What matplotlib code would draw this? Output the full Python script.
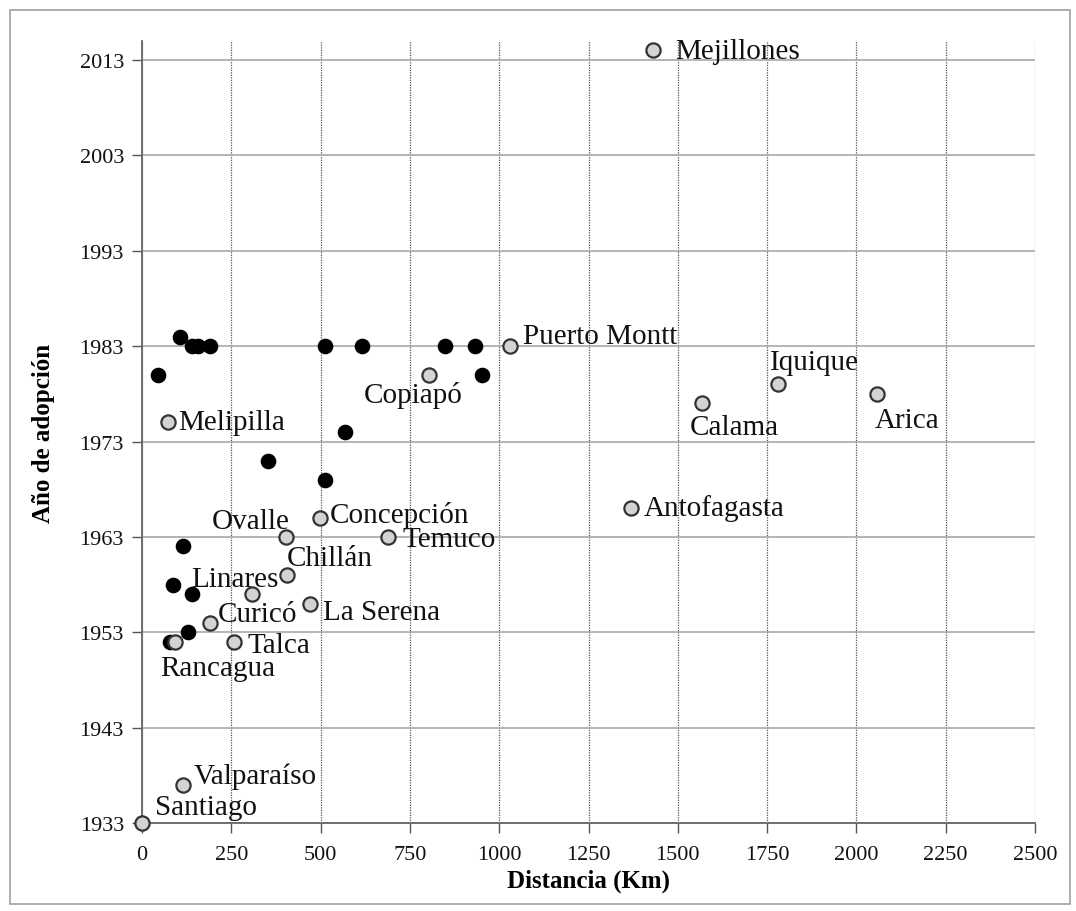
import matplotlib.pyplot as plt
from matplotlib.patches import Rectangle

# ciudades con nombre (puntos grises)
ciudades = ['Mejillones', 'Puerto Montt', 'Copiapó', 'Melipilla', 'Iquique', 'Calama',
            'Arica', 'Antofagasta', 'Concepción', 'Ovalle', 'Temuco', 'Chillán',
            'Linares', 'La Serena', 'Curicó', 'Talca', 'Rancagua', 'Valparaíso', 'Santiago']
dist_ciudades = [1431, 1030, 803, 74, 1781, 1567, 2059, 1368, 498, 403, 690, 405,
                 307, 470, 190, 258, 92, 116, 0]
anio_ciudades = [2014, 1983, 1980, 1975, 1979, 1977, 1978, 1966, 1965, 1963, 1963, 1959,
                 1957, 1956, 1954, 1952, 1952, 1937, 1933]

# otras ciudades sin nombre (puntos negros)
dist_otras = [106, 139, 158, 190, 512, 615, 848, 932, 46, 951, 568, 354, 512, 116, 88, 141, 130, 78]
anio_otras = [1984, 1983, 1983, 1983, 1983, 1983, 1983, 1983, 1980, 1980, 1974, 1971, 1969,
              1962, 1958, 1957, 1953, 1952]

x_ticks = [0, 250, 500, 750, 1000, 1250, 1500, 1750, 2000, 2250, 2500]
y_ticks = [1933, 1943, 1953, 1963, 1973, 1983, 1993, 2003, 2013]

# desplazamiento de las etiquetas en pixeles (dx, dy, alineacion)
offsets = {
    'Mejillones': (22, -1, 'left'), 'Puerto Montt': (13, 10, 'left'),
    'Copiapó': (-16, -20, 'center'), 'Melipilla': (10, 0, 'left'),
    'Iquique': (-8, 22, 'left'), 'Calama': (-12, -24, 'left'),
    'Arica': (-3, -26, 'left'), 'Antofagasta': (13, 1, 'left'),
    'Concepción': (10, 3, 'left'), 'Ovalle': (-35, 16, 'center'),
    'Temuco': (14, -2, 'left'), 'Chillán': (0, 17, 'left'),
    'Linares': (-17, 15, 'center'), 'La Serena': (13, -8, 'left'),
    'Curicó': (8, 9, 'left'), 'Talca': (13, -3, 'left'),
    'Rancagua': (-15, -26, 'left'), 'Valparaíso': (10, 9, 'left'),
    'Santiago': (13, 16, 'left'),
}

plt.rcParams['font.family'] = ['Liberation Serif', 'DejaVu Serif']

fig = plt.figure(figsize=(10.76, 9.12), dpi=100)
ax = fig.add_axes([0.132, 0.0965, 0.8299, 0.8575])

fig.patches.append(Rectangle((0.0095, 0.008), 0.985, 0.98, transform=fig.transFigure,
                             fill=False, edgecolor='#a0a0a0', linewidth=1.2))

ax.scatter(dist_otras, anio_otras, s=105, color='black', zorder=3)
ax.scatter(dist_ciudades, anio_ciudades, s=105, facecolor='#d3d3d3',
           edgecolor='#333333', linewidth=1.6, zorder=4, clip_on=False)

for nombre, x, y in zip(ciudades, dist_ciudades, anio_ciudades):
    dx, dy, ha = offsets[nombre]
    ax.annotate(nombre, (x, y), xytext=(dx, dy), textcoords='offset pixels',
                ha=ha, va='center', fontsize=21, color='#111111', zorder=5)

ax.set_xlim(0, 2500)
ax.set_ylim(1933, 2015)
ax.set_xticks(x_ticks)
ax.set_yticks(y_ticks)
ax.tick_params(labelsize=16, length=7, width=1, color='#555555', pad=6, labelcolor='#111111')
ax.tick_params(axis='x', pad=9)

ax.yaxis.grid(True, color='#a8a8a8', linewidth=1.2, linestyle='-')
ax.xaxis.grid(True, color='#555555', linewidth=0.9, linestyle=(0, (1, 1)))
ax.set_axisbelow(True)

for lado in ['top', 'right']:
    ax.spines[lado].set_visible(False)
for lado in ['left', 'bottom']:
    ax.spines[lado].set_color('#666666')
    ax.spines[lado].set_linewidth(1.3)

ax.set_xlabel('Distancia (Km)', fontsize=18, fontweight='bold', labelpad=3)
ax.set_ylabel('Año de adopción', fontsize=18, fontweight='bold', labelpad=18)

fig.savefig('out.png', dpi=100)
